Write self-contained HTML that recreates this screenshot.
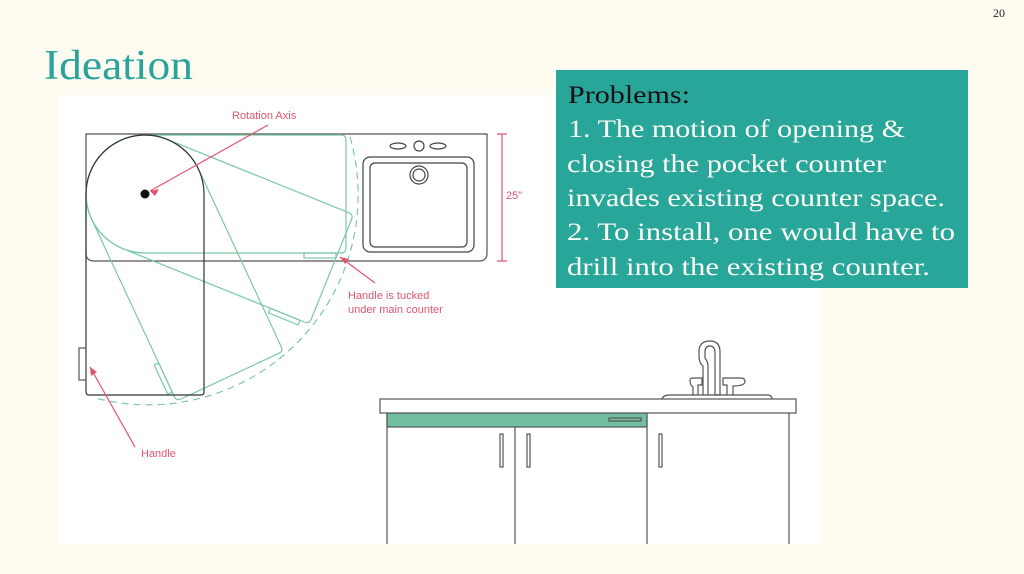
<!DOCTYPE html>
<html><head><meta charset="utf-8"><style>
html,body{margin:0;padding:0;background:#fefbf1;}
svg{display:block}
</style></head><body>
<svg width="1024" height="574" viewBox="0 0 1024 574" xmlns="http://www.w3.org/2000/svg" font-family="Liberation Serif, serif">
<rect width="1024" height="574" fill="#fefbf1"/>
<text x="993" y="17" font-size="12" fill="#222">20</text>
<text x="44" y="79" font-size="42" fill="#2aa39a" textLength="149" lengthAdjust="spacingAndGlyphs">Ideation</text>
<rect x="58" y="95" width="762" height="449" fill="#ffffff"/>

<!-- top view -->
<g fill="none" stroke-width="1.2">
<path d="M86,134 H487 V253 Q487,261 479,261 H94 Q86,261 86,253 Z" stroke="#555"/>
<g stroke="#7cc8a4">
  <g id="sh">
    <path d="M145,135 H341 Q346,135 346,140 V248 Q346,253 341,253 H145 A59,59 0 0 1 145,135 Z"/>
    <rect x="304" y="253" width="32" height="5"/>
  </g>
  <use href="#sh" transform="rotate(22 145 194)"/>
  <use href="#sh" transform="rotate(65 145 194)"/>
  <path d="M350,137 A210,210 0 0 1 95,398" stroke-dasharray="7,5"/>
</g>
<path d="M86,194 A59,59 0 0 1 204,194 V392 Q204,395 201,395 H89 Q86,395 86,392 Z" stroke="#333"/>
<rect x="79" y="348" width="7" height="32" stroke="#555"/>
<rect x="363" y="157" width="111" height="95" rx="7" stroke="#444"/>
<rect x="370" y="163" width="97" height="84" rx="5" stroke="#444"/>
<circle cx="419" cy="175" r="9" stroke="#444"/>
<circle cx="419" cy="175" r="6" stroke="#444"/>
<ellipse cx="398" cy="146" rx="8" ry="3" stroke="#444"/>
<circle cx="419" cy="146" r="5" stroke="#444"/>
<ellipse cx="438" cy="146" rx="8" ry="3" stroke="#444"/>
<g stroke="#e0566f">
<path d="M502,134 V261 M497,134 H507 M497,261 H507"/>
<path d="M268,125 L150,191 M375,283 L340,257 M135,447 L90,367"/>
</g>
</g>
<circle cx="145" cy="194" r="4.5" fill="#111"/>
<g fill="#e0566f">
<path d="M150,191 l9,-2 l-4,7 z"/>
<path d="M340,257 l9,2 l-4,5 z"/>
<path d="M90,367 l1,9 l6,-4 z"/>
</g>
<g font-family="Liberation Sans, sans-serif" font-size="11" fill="#e0566f">
<text x="232" y="119">Rotation Axis</text>
<text x="506" y="199">25"</text>
<text x="348" y="299">Handle is tucked</text>
<text x="348" y="313">under main counter</text>
<text x="141" y="457">Handle</text>
</g>

<!-- front view -->
<g fill="none" stroke="#555" stroke-width="1.2">
<path d="M387,413 V544 M515,427 V544 M647,413 V544 M789,413 V544"/>
<rect x="387" y="413" width="260" height="14" fill="#72bf9f"/>
<rect x="609" y="418" width="32" height="3"/>
<rect x="500" y="434" width="3" height="33"/>
<rect x="527" y="434" width="3" height="33"/>
<rect x="659" y="434" width="3" height="33"/>
<rect x="380" y="399" width="416" height="14" fill="#fff"/>
<path d="M662,399 Q663,395 670,395 H767 Q772,395 772,399"/>
<path d="M703,395 V366 Q700,364 699,358 V350 Q700,341 710,341 Q720,341 720,352 V395 H715 V353 Q715,346 710,346 Q705,346 705,352 V358 Q708,362 708,366 V395"/>
<path d="M693,395 V387 Q690,385 690,380 Q690,378 694,378 H702 V385 H698 V395"/>
<path d="M727,395 V385 H723 V378 H741 Q745,378 745,382 Q744,386 733,386 V395"/>
</g>

<!-- problems box -->
<rect x="556" y="70" width="412" height="218" fill="#28a69a"/>
<g font-size="25" fill="#fbfbf4">
<text x="568" y="103" fill="#111" textLength="122" lengthAdjust="spacingAndGlyphs">Problems:</text>
<text x="568" y="137" textLength="337" lengthAdjust="spacingAndGlyphs">1. The motion of opening &amp;</text>
<text x="567" y="172" textLength="319" lengthAdjust="spacingAndGlyphs">closing the pocket counter</text>
<text x="567" y="206" textLength="378" lengthAdjust="spacingAndGlyphs">invades existing counter space.</text>
<text x="567" y="240" textLength="388" lengthAdjust="spacingAndGlyphs">2. To install, one would have to</text>
<text x="567" y="275" textLength="363" lengthAdjust="spacingAndGlyphs">drill into the existing counter.</text>
</g>
</svg>
</body></html>
